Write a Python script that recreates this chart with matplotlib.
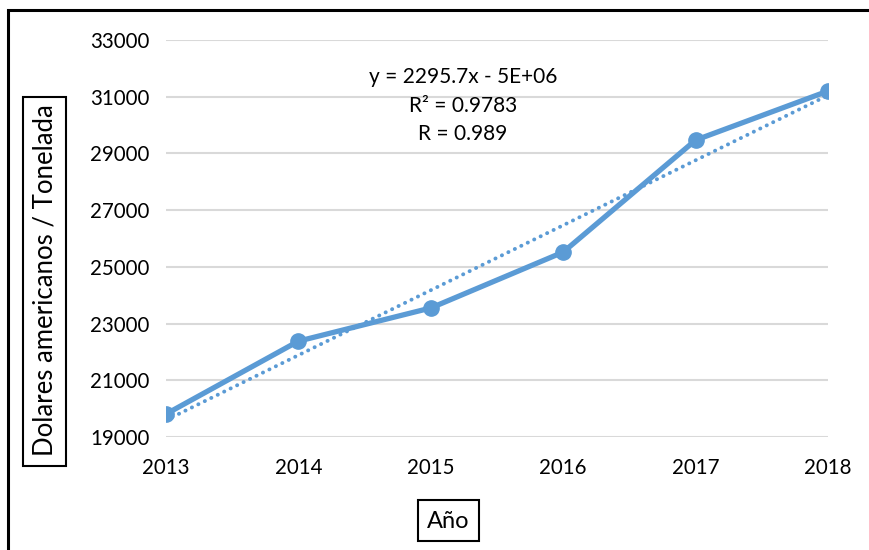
import numpy as np
import matplotlib.pyplot as plt
from matplotlib.patches import Rectangle

# Precio por año (USD / tonelada)
years = [2013, 2014, 2015, 2016, 2017, 2018]
prices = [19810, 22380, 23550, 25520, 29470, 31200]
y_ticks = [19000, 21000, 23000, 25000, 27000, 29000, 31000, 33000]
eq_lines = ["y = 2295.7x - 5E+06", "R² = 0.9783", "R = 0.989"]

blue = "#5B9BD5"
plt.rcParams["font.family"] = ["Lato", "DejaVu Sans"]

fig = plt.figure(figsize=(8.69, 5.5), dpi=100)
ax = fig.add_axes([166 / 869, 1 - 437 / 550, (828 - 166) / 869, (437 - 40) / 550])

# serie de datos
ax.plot(years, prices, color=blue, lw=3.8, marker="o", ms=11,
        solid_capstyle="round", zorder=3)

# linea de tendencia lineal
slope, intercept = np.polyfit(years, prices, 1)
fit = np.polyval([slope, intercept], years)
ax.plot(years, fit, color=blue, lw=2.8, ls=(0, (0.05, 1.8)),
        dash_capstyle="round", zorder=2)

# ecuacion, R2 y R (una linea cada una)
for i, line in enumerate(eq_lines):
    fig.text(463 / 869, 1 - (77 + 28.5 * i) / 550, line,
             ha="center", va="center", fontsize=15)

ax.set_xlim(2013, 2018)
ax.set_ylim(19000, 33000)
ax.set_yticks(y_ticks)
ax.set_xticks(years)
ax.tick_params(length=0, labelsize=14.8, pad=12)
ax.tick_params(axis="x", pad=15)
ax.grid(axis="y", color="#D9D9D9", lw=1.5)
ax.set_axisbelow(True)
for s in ax.spines.values():
    s.set_visible(False)

# titulos de ejes con recuadro
fig.text(45 / 869, 1 - 280 / 550, "Dolares americanos / Tonelada",
         rotation=90, ha="center", va="center", fontsize=18.5)
fig.patches.append(Rectangle((23 / 869, 1 - 466 / 550), 43 / 869, 369 / 550,
                             transform=fig.transFigure, fill=False, ec="black", lw=1.5))
fig.text(448.5 / 869, 1 - 521 / 550, "Año", ha="center", va="center", fontsize=17)
fig.patches.append(Rectangle((418 / 869, 1 - 541 / 550), 61 / 869, 41 / 550,
                             transform=fig.transFigure, fill=False, ec="black", lw=1.5))

# borde exterior (solo izquierda y arriba visibles)
fig.patches.append(Rectangle((8 / 869, -0.1), 1.2, 1 - 10 / 550 + 0.1,
                             transform=fig.transFigure, fill=False, ec="black", lw=2.2))

fig.savefig("out.png", dpi=100)
